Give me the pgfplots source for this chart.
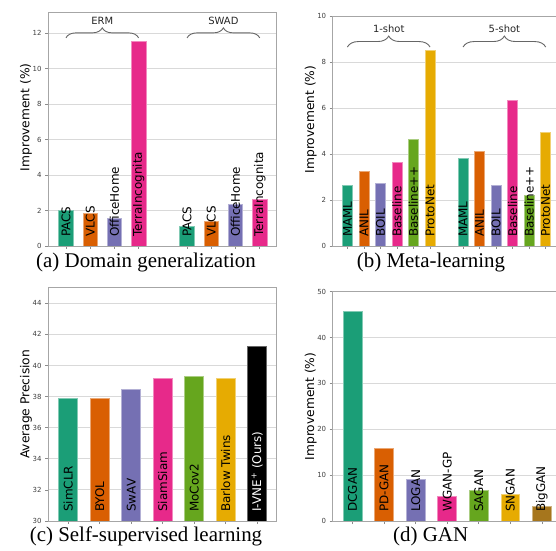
\documentclass[border=0pt]{standalone}
\usepackage{fontspec}
\setmainfont{Liberation Serif}
\setsansfont{DejaVu Sans}
\usepackage{pgfplots}
\pgfplotsset{compat=1.18}
\usetikzlibrary{decorations.pathreplacing}
\definecolor{c1}{HTML}{1B9E77}
\definecolor{c2}{HTML}{D95F02}
\definecolor{c3}{HTML}{7570B3}
\definecolor{c4}{HTML}{E7298A}
\definecolor{c5}{HTML}{66A61E}
\definecolor{c6}{HTML}{E6AB02}
\definecolor{c7}{HTML}{A6761D}
\pgfplotsset{
 panel/.style={
  scale only axis, anchor=south west,
  axis line style={draw=black!35, line width=0.9bp},
  tick pos=left, tick align=outside, major tick length=3bp,
  every tick/.style={draw=black!45, line width=0.6bp},
  ymajorgrids, grid style={draw=black!15, line width=0.9bp},
  xticklabels={},
  ticklabel style={font=\sffamily\fontsize{7}{8}\selectfont, text=black!75},
  /pgf/number format/assume math mode=true,
  ylabel style={font=\sffamily\fontsize{12.3}{14}\selectfont, at={(axis description cs:-0.096,#1)}, anchor=center},
 },
 panel/.default=0.5,
 mybar/.style={ybar, bar width=0.6, bar shift=0pt, fill=#1, draw=#1!55!white, line width=0.6bp},
}
\tikzset{
 blab/.style={rotate=90, anchor=west, inner sep=0pt, font=\sffamily\fontsize{12}{12}\selectfont},
 brc/.style={decorate, decoration={brace, amplitude=#1}, draw=black!60, line width=0.9bp},
 grp/.style={font=\sffamily\fontsize{10}{11}\selectfont, text=black!85},
}
\begin{document}
\begin{tikzpicture}
\useasboundingbox (0,0) rectangle (556bp,551bp);
\clip (0,0) rectangle (556bp,551bp);
% (a)
\begin{axis}[panel=0.55, at={(48bp,305bp)}, width=228.7bp, height=234bp,
  xmin=-0.74, xmax=8.7, ymin=0, ymax=13.2,
  xtick={0,1,2,3,5,6,7,8}, ytick={0,2,...,12}, ylabel={Improvement (\%)}]
\addplot[mybar=c1] coordinates {(0,2.00)};
\addplot[mybar=c2] coordinates {(1,1.85)};
\addplot[mybar=c3] coordinates {(2,1.55)};
\addplot[mybar=c4] coordinates {(3,11.55)};
\addplot[mybar=c1] coordinates {(5,1.13)};
\addplot[mybar=c2] coordinates {(6,1.42)};
\addplot[mybar=c3] coordinates {(7,2.35)};
\addplot[mybar=c4] coordinates {(8,2.64)};
\node[blab] at (axis cs:0,0.5) {PACS};
\node[blab] at (axis cs:1,0.5) {VLCS};
\node[blab] at (axis cs:2,0.5) {OfficeHome};
\node[blab] at (axis cs:3,0.5) {TerraIncognita};
\node[blab] at (axis cs:5,0.5) {PACS};
\node[blab] at (axis cs:6,0.5) {VLCS};
\node[blab] at (axis cs:7,0.5) {OfficeHome};
\node[blab] at (axis cs:8,0.5) {TerraIncognita};
\draw[brc=10bp] (axis cs:0,11.74) -- (axis cs:3,11.74);
\draw[brc=10bp] (axis cs:5,11.74) -- (axis cs:8,11.74);
\node[grp] at (axis cs:1.5,12.71) {ERM};
\node[grp] at (axis cs:6.5,12.71) {SWAD};
\end{axis}
% (b)
\begin{axis}[panel=0.55, at={(332.7bp,305bp)}, width=227.7bp, height=230bp,
  xmin=-0.89, xmax=12.89, ymin=0, ymax=10,
  xtick={0,1,2,3,4,5,7,8,9,10,11,12}, ytick={0,2,...,10}, ylabel={Improvement (\%)}]
\addplot[mybar=c1] coordinates {(0,2.63)};
\addplot[mybar=c2] coordinates {(1,3.23)};
\addplot[mybar=c3] coordinates {(2,2.74)};
\addplot[mybar=c4] coordinates {(3,3.62)};
\addplot[mybar=c5] coordinates {(4,4.63)};
\addplot[mybar=c6] coordinates {(5,8.52)};
\addplot[mybar=c1] coordinates {(7,3.81)};
\addplot[mybar=c2] coordinates {(8,4.13)};
\addplot[mybar=c3] coordinates {(9,2.63)};
\addplot[mybar=c4] coordinates {(10,6.33)};
\addplot[mybar=c5] coordinates {(11,2.20)};
\addplot[mybar=c6] coordinates {(12,4.93)};
\node[blab] at (axis cs:0,0.39) {MAML};
\node[blab] at (axis cs:1,0.39) {ANIL};
\node[blab] at (axis cs:2,0.39) {BOIL};
\node[blab] at (axis cs:3,0.39) {Baseline};
\node[blab] at (axis cs:4,0.39) {Baseline++};
\node[blab] at (axis cs:5,0.39) {ProtoNet};
\node[blab] at (axis cs:7,0.39) {MAML};
\node[blab] at (axis cs:8,0.39) {ANIL};
\node[blab] at (axis cs:9,0.39) {BOIL};
\node[blab] at (axis cs:10,0.39) {Baseline};
\node[blab] at (axis cs:11,0.39) {Baseline++};
\node[blab] at (axis cs:12,0.39) {ProtoNet};
\draw[brc=11bp] (axis cs:0,8.65) -- (axis cs:5,8.65);
\draw[brc=11bp] (axis cs:7,8.65) -- (axis cs:12,8.65);
\node[grp] at (axis cs:2.5,9.46) {1-shot};
\node[grp] at (axis cs:9.5,9.46) {5-shot};
\end{axis}
% (c)
\begin{axis}[panel, at={(48bp,30bp)}, width=228.7bp, height=233.3bp,
  xmin=-0.64, xmax=6.62, ymin=30, ymax=45,
  xtick={0,1,...,6}, ytick={30,32,...,44}, ylabel={Average Precision}]
\addplot[mybar=c1] coordinates {(0,37.90)};
\addplot[mybar=c2] coordinates {(1,37.90)};
\addplot[mybar=c3] coordinates {(2,38.45)};
\addplot[mybar=c4] coordinates {(3,39.20)};
\addplot[mybar=c5] coordinates {(4,39.32)};
\addplot[mybar=c6] coordinates {(5,39.20)};
\addplot[ybar, bar width=0.6, bar shift=0pt, fill=black, draw=black!60, line width=0.6bp] coordinates {(6,41.25)};
\node[blab] at (axis cs:0,30.58) {SimCLR};
\node[blab] at (axis cs:1,30.58) {BYOL};
\node[blab] at (axis cs:2,30.58) {SwAV};
\node[blab] at (axis cs:3,30.58) {SiamSiam};
\node[blab] at (axis cs:4,30.58) {MoCov2};
\node[blab] at (axis cs:5,30.58) {Barlow Twins};
\node[blab, text=white] at (axis cs:6,30.58) {I-VNE\textsuperscript{+} (Ours)};
\end{axis}
% (d)
\begin{axis}[panel, at={(332.7bp,30bp)}, width=229bp, height=229.3bp,
  xmin=-0.63, xmax=6.63, ymin=0, ymax=50,
  xtick={0,1,...,6}, ytick={0,10,...,50}, ylabel={Improvement (\%)}]
\addplot[mybar=c1] coordinates {(0,45.80)};
\addplot[mybar=c2] coordinates {(1,15.95)};
\addplot[mybar=c3] coordinates {(2,9.13)};
\addplot[mybar=c4] coordinates {(3,5.43)};
\addplot[mybar=c5] coordinates {(4,6.67)};
\addplot[mybar=c6] coordinates {(5,5.72)};
\addplot[mybar=c7] coordinates {(6,3.19)};
\node[blab] at (axis cs:0,1.96) {DCGAN};
\node[blab] at (axis cs:1,1.96) {PD-GAN};
\node[blab] at (axis cs:2,1.96) {LOGAN};
\node[blab] at (axis cs:3,1.96) {WGAN-GP};
\node[blab] at (axis cs:4,1.96) {SAGAN};
\node[blab] at (axis cs:5,1.96) {SNGAN};
\node[blab] at (axis cs:6,1.96) {BigGAN};
\end{axis}
\node[anchor=base, font=\fontsize{21}{24}\selectfont] at (146bp,283bp) {(a) Domain generalization};
\node[anchor=base, font=\fontsize{21}{24}\selectfont] at (431bp,283bp) {(b) Meta-learning};
\node[anchor=base, font=\fontsize{21}{24}\selectfont] at (146bp,9.3bp) {(c) Self-supervised learning};
\node[anchor=base, font=\fontsize{21}{24}\selectfont] at (430.7bp,9.3bp) {(d) GAN};
\end{tikzpicture}
\end{document}
